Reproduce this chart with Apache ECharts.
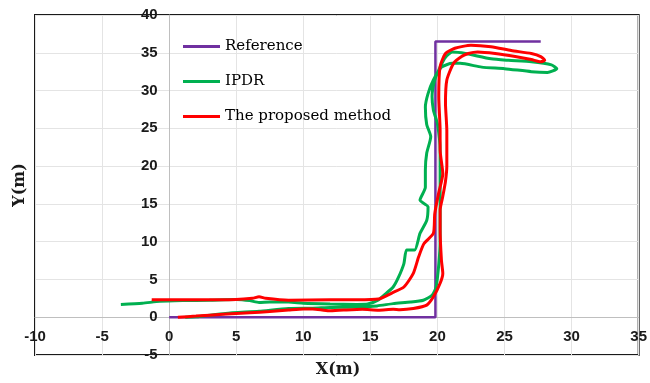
<!DOCTYPE html>
<html>
<head>
<meta charset="utf-8">
<script src="https://cdn.jsdelivr.net/npm/echarts@6/dist/echarts.min.js"></script>
<style>html,body{margin:0;padding:0;background:#fff}#c{width:650px;height:383px}</style>
</head>
<body>
<div id="c"></div>
<script>
const seriesNames = ['Reference', 'IPDR', 'The proposed method'];
const xTicks = [-10, -5, 0, 5, 10, 15, 20, 25, 30, 35];
const yTicks = [-5, 0, 5, 10, 15, 20, 25, 30, 35, 40];

const refX = [0, 19.85, 19.85, 27.7];
const refY = [0, 0, 36.5, 36.5];

const ipdrX = [-3.6, -2, -0.7, 1, 3, 5, 6, 6.7, 7.5, 8.9, 10, 12, 14, 14.8, 15.6, 16.2, 16.7, 17.1, 17.5, 17.7, 18.3, 18.7, 19.2, 19.3, 18.7, 19.1, 19.1, 19.2, 19.5, 19.2, 19.1, 19.3, 19.7, 20.3, 21.1, 21.7, 23.3, 25.0, 27.0, 28.2, 28.9, 28.5, 27.0, 25.3, 24.0, 22.1, 21.1, 20.6, 20.2, 19.8, 19.6, 19.7, 20.0, 20.2, 20.2, 20.2, 20.2, 20.1, 19.9, 19.6, 18.95, 18.0, 16.7, 15.5, 14, 12, 10.7, 8.9, 6.7, 4.2, 2.0, 1.2];
const ipdrY = [1.7, 1.85, 2.1, 2.2, 2.25, 2.35, 2.2, 1.95, 2.0, 2.0, 1.85, 1.75, 1.7, 1.75, 2.3, 3.2, 4.0, 5.3, 7.1, 8.9, 8.9, 11.1, 12.8, 14.6, 15.5, 17.2, 19.5, 21.7, 23.9, 25.5, 27.8, 29.6, 31.4, 33.1, 33.6, 33.6, 33.1, 32.9, 32.5, 32.4, 32.9, 33.4, 33.8, 34.0, 34.2, 34.9, 35.1, 34.4, 33.1, 31.4, 29.2, 27.4, 25.6, 22, 18, 14, 10, 7, 4.0, 2.9, 2.25, 2.0, 1.8, 1.5, 1.35, 1.3, 1.2, 1.15, 0.8, 0.5, 0.05, 0];

const propX = [0.65, 2, 4, 6, 7.5, 8.9, 10, 10.7, 11.9, 13, 14.4, 15.6, 16.7, 17.2, 18.2, 19.2, 19.7, 20.2, 20.4, 20.3, 20.2, 20.2, 20.4, 20.6, 20.7, 20.7, 20.6, 20.7, 21.2, 21.8, 22.3, 23.0, 24.3, 25.8, 27.0, 27.7, 28.0, 27.7, 27.0, 25.5, 24.0, 22.5, 21.3, 20.6, 20.2, 20.1, 20.2, 20.2, 20.4, 20.1, 19.8, 19.7, 19.0, 18.6, 18.2, 17.5, 16.6, 15.6, 14, 12, 8.9, 7.2, 6.7, 6.2, 4, 1, -1.3];
const propY = [0, 0.15, 0.4, 0.6, 0.75, 0.95, 1.1, 1.1, 0.85, 0.95, 1.05, 0.93, 1.05, 1.0, 1.15, 1.6, 2.7, 4.5, 5.8, 7.5, 11.5, 14.2, 16, 18, 20, 24.7, 28.3, 31.4, 33.6, 34.5, 34.9, 35.1, 34.9, 34.5, 34.1, 33.8, 34.0, 34.5, 34.9, 35.3, 35.8, 36.0, 35.6, 34.9, 33.2, 29.2, 24.7, 22.1, 19, 16.5, 13.7, 11.1, 9.75, 8.0, 5.8, 4.0, 3.2, 2.4, 2.3, 2.3, 2.25, 2.5, 2.7, 2.5, 2.3, 2.3, 2.3];

const zip = (xs, ys) => xs.map((x, i) => [x, ys[i]]);
const colors = ['#7030A0', '#00B050', '#FF0000'];

const W = 650, H = 383;
const G = {left: 35, right: 9, top: 15, bottom: 28};
const plotW = W - G.left - G.right, plotH = H - G.top - G.bottom;
const xMin = xTicks[0], xMax = xTicks[xTicks.length - 1];
const yMin = yTicks[0], yMax = yTicks[yTicks.length - 1];
// place axis lines through the origin (Excel-style crossing axes)
const xAxisOffset = -plotH * (0 - yMin) / (yMax - yMin);
const yAxisOffset = -plotW * (0 - xMin) / (xMax - xMin);

const chart = echarts.init(document.getElementById('c'), null, {renderer: 'canvas'});
const axisLabel = {fontFamily: 'Liberation Sans', fontWeight: 'bold', fontSize: 15, color: '#1a1a1a', showMinLabel: true, showMaxLabel: true};
chart.setOption({
  animation: false,
  grid: Object.assign({show: true, borderColor: '#1a1a1a', borderWidth: 2, backgroundColor: 'transparent'}, G),
  xAxis: {
    type: 'value', min: xMin, max: xMax, interval: 5, position: 'bottom', offset: xAxisOffset,
    axisLine: {onZero: false, lineStyle: {color: '#bfbfbf', width: 1}},
    axisTick: {show: false},
    axisLabel: Object.assign({margin: 12}, axisLabel),
    splitLine: {lineStyle: {color: '#e4e4e4', width: 1}}
  },
  yAxis: {
    type: 'value', min: yMin, max: yMax, interval: 5, position: 'left', offset: yAxisOffset,
    axisLine: {onZero: false, lineStyle: {color: '#bfbfbf', width: 1}},
    axisTick: {show: false},
    axisLabel: Object.assign({margin: 12}, axisLabel),
    splitLine: {lineStyle: {color: '#e4e4e4', width: 1}}
  },
  legend: {
    orient: 'vertical', left: 183, top: 39, padding: 0, icon: 'rect', itemWidth: 37, itemHeight: 3, itemGap: 20,
    data: seriesNames,
    textStyle: {fontFamily: 'DejaVu Serif', fontSize: 15, color: '#000', lineHeight: 14}
  },
  graphic: [
    {type: 'text', x: 338, y: 370, style: {text: 'X(m)', font: 'bold 16px "DejaVu Serif"', fill: '#1a1a1a', align: 'center', verticalAlign: 'middle'}},
    {type: 'text', x: 20, y: 185, rotation: Math.PI / 2, style: {text: 'Y(m)', font: 'bold 16px "DejaVu Serif"', fill: '#1a1a1a', align: 'center', verticalAlign: 'middle'}}
  ],
  series: [
    {name: seriesNames[0], type: 'line', data: zip(refX, refY), symbol: 'none', lineStyle: {color: colors[0], width: 2.5}, itemStyle: {color: colors[0]}},
    {name: seriesNames[1], type: 'line', data: zip(ipdrX, ipdrY), symbol: 'none', smooth: 0.2, lineStyle: {color: colors[1], width: 3}, itemStyle: {color: colors[1]}},
    {name: seriesNames[2], type: 'line', data: zip(propX, propY), symbol: 'none', smooth: 0.2, lineStyle: {color: colors[2], width: 3}, itemStyle: {color: colors[2]}}
  ]
});
</script>
</body>
</html>
